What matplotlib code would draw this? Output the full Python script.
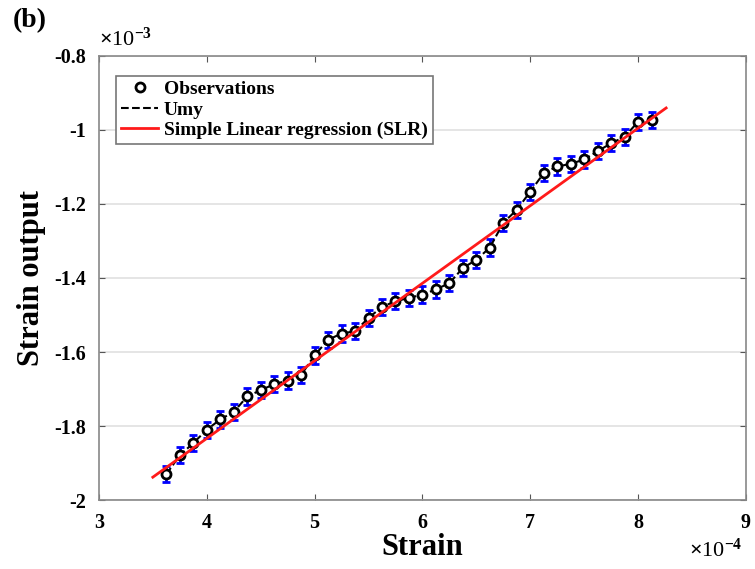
import numpy as np
import matplotlib
matplotlib.use('Agg')
import matplotlib.pyplot as plt

# Strain (x1e-4) and strain output (x1e-3)
strain = [3.625, 3.75, 3.875, 4.0, 4.125, 4.25, 4.375, 4.5, 4.625, 4.75,
          4.875, 5.0, 5.125, 5.25, 5.375, 5.5, 5.625, 5.75, 5.875, 6.0,
          6.125, 6.25, 6.375, 6.5, 6.625, 6.75, 6.875, 7.0, 7.125, 7.25,
          7.375, 7.5, 7.625, 7.75, 7.875, 8.0, 8.125]
output = [-1.930, -1.879, -1.846, -1.810, -1.782, -1.762, -1.720, -1.703, -1.687, -1.677,
          -1.662, -1.609, -1.567, -1.550, -1.544, -1.508, -1.478, -1.463, -1.454, -1.445,
          -1.431, -1.414, -1.373, -1.351, -1.318, -1.251, -1.216, -1.167, -1.117, -1.099,
          -1.092, -1.080, -1.058, -1.036, -1.019, -0.978, -0.973]
err = 0.022

# regression line end points
slr_x = [3.5, 8.26]
slr_y = [-1.938, -0.941]

plt.rcParams['font.family'] = ['Liberation Serif', 'DejaVu Serif']
plt.rcParams['font.weight'] = 'bold'
plt.rcParams['mathtext.fontset'] = 'custom'
plt.rcParams['mathtext.rm'] = 'Liberation Serif'
plt.rcParams['mathtext.it'] = 'Liberation Serif'
plt.rcParams['mathtext.bf'] = 'Liberation Serif:bold'

fig = plt.figure(figsize=(7.55, 5.69), dpi=100)
ax = fig.add_axes([0.131, 0.121, 0.857, 0.781])

ax.errorbar(strain, output, yerr=err, fmt='none', ecolor='#0000ff', elinewidth=2,
            capsize=3, capthick=2, zorder=2)
ax.plot(strain, output, 'o', mfc='white', mec='black', mew=2, ms=6.5,
        label='Observations', zorder=3)
ax.plot(strain, output, '--', color='black', lw=1.5, label='Umy', zorder=2.5)
ax.plot(slr_x, slr_y, '-', color='#ff1a1a', lw=2, label='Simple Linear regression (SLR)', zorder=4)

ax.set_xlim(3, 9)
ax.set_ylim(-2, -0.8)
ax.set_xticks(np.arange(3, 10, 1))
ax.set_yticks(np.arange(-2, -0.79, 0.2))
ax.set_xticklabels(['%g' % v for v in np.arange(3, 10, 1)])
ax.set_yticklabels(['%g' % round(v, 1) for v in np.arange(-2, -0.79, 0.2)])
ax.tick_params(direction='in', length=4, labelsize=14.5, color='#555555',
               top=True, right=True, pad=9)
for s in ax.spines.values():
    s.set_color('#888888')
    s.set_linewidth(1.2)
ax.yaxis.grid(True, color='#e0e0e0', lw=1.2)
ax.set_axisbelow(True)

ax.set_xlabel('Strain', fontsize=22, fontweight='bold', labelpad=0)
ax.set_ylabel('Strain output', fontsize=22, fontweight='bold', labelpad=6)

ax.text(0.0, 1.012, r'$\times$10$^{-3}$', transform=ax.transAxes, fontsize=16,
        fontweight='normal', ha='left', va='bottom')
fig.text(0.984, 0.012, r'$\times$10$^{-4}$', fontsize=16,
         fontweight='normal', ha='right', va='bottom')
fig.text(0.017, 0.985, '(b)', fontsize=20, fontweight='bold', va='top')

leg = ax.legend(loc='upper left', bbox_to_anchor=(0.012, 0.977),
                prop={'weight': 'bold', 'size': 14}, fancybox=False,
                edgecolor='#777777', framealpha=1, handlelength=1.9,
                borderpad=0.25, labelspacing=0.15, handletextpad=0.3)
leg.get_frame().set_linewidth(1.2)

plt.savefig('out.png', dpi=100)
